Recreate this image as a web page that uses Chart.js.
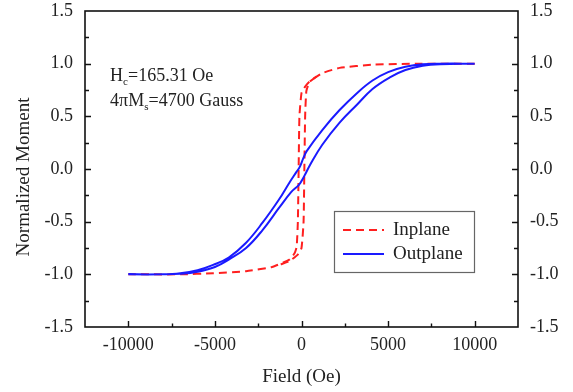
<!DOCTYPE html>
<html><head><meta charset="utf-8">
<script src="https://cdn.jsdelivr.net/npm/chart.js@4/dist/chart.umd.min.js"></script>
<style>html,body{margin:0;padding:0;background:#fff;}canvas{display:block;}</style>
</head><body>
<canvas id="c" width="573" height="392"></canvas>
<script>
// ---- data ----
const seriesNames = ['Inplane', 'Outplane'];
// Inplane loop: descending branch (+H -> -H); ascending branch where it separates from the descending one
const inplaneDownField  = [10000, 6800, 4100, 2200, 1200, 460, 200, 0, -120, -165, -210, -280, -400, -700, -1700, -3200, -5100, -7000, -10000];
const inplaneDownMoment = [1.0, 1.0, 0.99, 0.96, 0.91, 0.83, 0.78, 0.72, 0.5, 0.0, -0.5, -0.74, -0.80, -0.86, -0.93, -0.97, -0.99, -1.0, -1.0];
const inplaneUpField    = [-1200, -700, -200, 0, 120, 165, 210, 280, 460, 1000];
const inplaneUpMoment   = [-0.905, -0.875, -0.81, -0.75, -0.5, 0.0, 0.5, 0.74, 0.825, 0.895];
// Outplane loop
const outplaneDownField  = [10000, 8000, 7000, 6000, 5000, 4100, 3200, 2200, 1200, 300, 100, -100, -300, -700, -1300, -2250, -3200, -4200, -5100, -6000, -7000, -8000, -10000];
const outplaneDownMoment = [1.0, 1.0, 0.995, 0.97, 0.92, 0.84, 0.72, 0.56, 0.37, 0.17, 0.10, 0.02, -0.03, -0.13, -0.29, -0.51, -0.70, -0.84, -0.91, -0.96, -0.99, -1.0, -1.0];
const outplaneUpField    = [-10000, -8000, -7000, -6000, -5000, -4200, -3200, -2250, -1300, -600, -150, 150, 500, 1200, 2200, 3200, 4100, 5100, 6000, 7000, 8000, 10000];
const outplaneUpMoment   = [-1.0, -1.0, -0.995, -0.975, -0.93, -0.86, -0.75, -0.58, -0.37, -0.22, -0.15, -0.07, 0.04, 0.23, 0.44, 0.61, 0.76, 0.87, 0.94, 0.98, 0.995, 1.0];
// axis ticks
const xTickLabels = [-10000, -5000, 0, 5000, 10000];
const yTickLabels = [-1.5, -1.0, -0.5, 0.0, 0.5, 1.0, 1.5];
const xTitle = 'Field (Oe)';
const yTitle = 'Normalized Moment';

function pts(fx, my) { return fx.map((f, i) => ({x: f, y: my[i]})); }

const FONT = '"Liberation Serif", "Times New Roman", serif';
const RED = '#ff1f1f', BLUE = '#1a1aff';

const decor = {
  id: 'decor',
  afterDatasetsDraw(chart) {
    const ctx = chart.ctx, a = chart.chartArea;
    const xs = chart.scales.x, ys = chart.scales.y;
    ctx.save();
    ctx.strokeStyle = '#111';
    ctx.lineWidth = 1.6;
    ctx.strokeRect(a.left, a.top, a.right - a.left, a.bottom - a.top);
    // inward ticks
    ctx.lineWidth = 1.4;
    ctx.beginPath();
    xs.ticks.forEach(t => {
      const v = t.value; if (v <= xs.min || v >= xs.max) return;
      const p = Math.round(xs.getPixelForValue(v)) + 0.5;
      const len = (v % 5000 === 0) ? 6 : 3.5;
      ctx.moveTo(p, a.bottom); ctx.lineTo(p, a.bottom - len);
    });
    ys.ticks.forEach(t => {
      const v = t.value; if (v <= ys.min + 1e-9 || v >= ys.max - 1e-9) return;
      const p = Math.round(ys.getPixelForValue(v)) + 0.5;
      const major = Math.abs(Math.round(v * 2) - v * 2) < 1e-6;
      const len = major ? 6 : 4;
      ctx.moveTo(a.left, p); ctx.lineTo(a.left + len, p);
      ctx.moveTo(a.right, p); ctx.lineTo(a.right - len, p);
    });
    ctx.stroke();

    // axis titles
    ctx.fillStyle = '#222';
    ctx.font = '19px ' + FONT;
    ctx.textAlign = 'center'; ctx.textBaseline = 'middle';
    ctx.fillText(xTitle, (a.left + a.right) / 2, 377);
    ctx.save();
    ctx.translate(24, (a.top + a.bottom) / 2 + 8);
    ctx.rotate(-Math.PI / 2);
    ctx.fillText(yTitle, 0, 0);
    ctx.restore();

    // annotation
    ctx.textAlign = 'left'; ctx.textBaseline = 'alphabetic';
    function sub(x, y, main, s, rest) {
      ctx.font = '18px ' + FONT; ctx.fillText(main, x, y);
      x += ctx.measureText(main).width;
      ctx.font = '11px ' + FONT; ctx.fillText(s, x, y + 4);
      x += ctx.measureText(s).width;
      ctx.font = '18px ' + FONT; ctx.fillText(rest, x, y);
    }
    const ax = xs.getPixelForValue(-11050);
    sub(ax, ys.getPixelForValue(0.84), 'H', 'c', '=165.31 Oe');
    sub(ax, ys.getPixelForValue(0.60), '4\u03C0M', 's', '=4700 Gauss');

    // legend
    const lx = 334, ly = 211, lw = 140, lh = 61;
    ctx.strokeStyle = '#666'; ctx.lineWidth = 1.2;
    ctx.strokeRect(lx + 0.5, ly + 0.5, lw, lh);
    const rows = [{c: RED, d: [8, 5], t: seriesNames[0], y: ly + 19}, {c: BLUE, d: [], t: seriesNames[1], y: ly + 43}];
    rows.forEach(r => {
      ctx.strokeStyle = r.c; ctx.lineWidth = 2; ctx.setLineDash(r.d);
      ctx.beginPath(); ctx.moveTo(lx + 9, r.y); ctx.lineTo(lx + 50, r.y); ctx.stroke();
      ctx.setLineDash([]);
      ctx.fillStyle = '#222'; ctx.font = '19px ' + FONT; ctx.textBaseline = 'middle';
      ctx.fillText(r.t, lx + 59, r.y);
    });
    ctx.restore();
  }
};

function fitY(width) {
  return s => { s.width = width; s.paddingTop = 0; s.paddingBottom = 0; };
}

new Chart(document.getElementById('c'), {
  type: 'scatter',
  data: {
    datasets: [
      {label: seriesNames[0], data: pts(inplaneDownField, inplaneDownMoment), showLine: true, borderColor: RED, borderWidth: 2,
       borderDash: [8, 5], pointRadius: 0, tension: 0.15, fill: false, order: 3},
      {label: seriesNames[0] + ' (ascending)', data: pts(inplaneUpField, inplaneUpMoment), showLine: true, borderColor: RED, borderWidth: 2,
       borderDash: [8, 5], pointRadius: 0, tension: 0.15, fill: false, order: 2},
      {label: seriesNames[1], data: pts(outplaneDownField, outplaneDownMoment).concat(pts(outplaneUpField, outplaneUpMoment).slice(1)),
       showLine: true, borderColor: BLUE, borderWidth: 2, pointRadius: 0, tension: 0.4, fill: false, order: 1}
    ]
  },
  options: {
    responsive: false, animation: false, devicePixelRatio: 1,
    layout: {padding: {top: 11, left: 0, right: 0, bottom: 0}},
    plugins: {legend: {display: false}, tooltip: {enabled: false}},
    scales: {
      x: {
        type: 'linear', min: -12500, max: 12500,
        grid: {display: false, drawTicks: false}, border: {display: false},
        ticks: {stepSize: 2500, padding: 7, color: '#222', font: {family: FONT, size: 18},
                autoSkip: false, maxRotation: 0,
                callback: v => xTickLabels.includes(v) ? String(v) : ''},
        afterFit: s => { s.height = 65; s.paddingLeft = 0; s.paddingRight = 0; }
      },
      y: {
        type: 'linear', position: 'left', min: -1.5, max: 1.5,
        grid: {display: false, drawTicks: false}, border: {display: false},
        ticks: {stepSize: 0.25, padding: 12, color: '#222', font: {family: FONT, size: 18}, autoSkip: false,
                callback: v => yTickLabels.some(t => Math.abs(t - v) < 1e-9) ? v.toFixed(1) : ''},
        afterFit: fitY(85)
      },
      y2: {
        type: 'linear', position: 'right', min: -1.5, max: 1.5,
        grid: {display: false, drawTicks: false}, border: {display: false},
        ticks: {stepSize: 0.25, padding: 12, color: '#222', font: {family: FONT, size: 18}, autoSkip: false,
                callback: v => yTickLabels.some(t => Math.abs(t - v) < 1e-9) ? v.toFixed(1) : ''},
        afterFit: fitY(55)
      }
    }
  },
  plugins: [decor]
});
</script>
</body></html>
